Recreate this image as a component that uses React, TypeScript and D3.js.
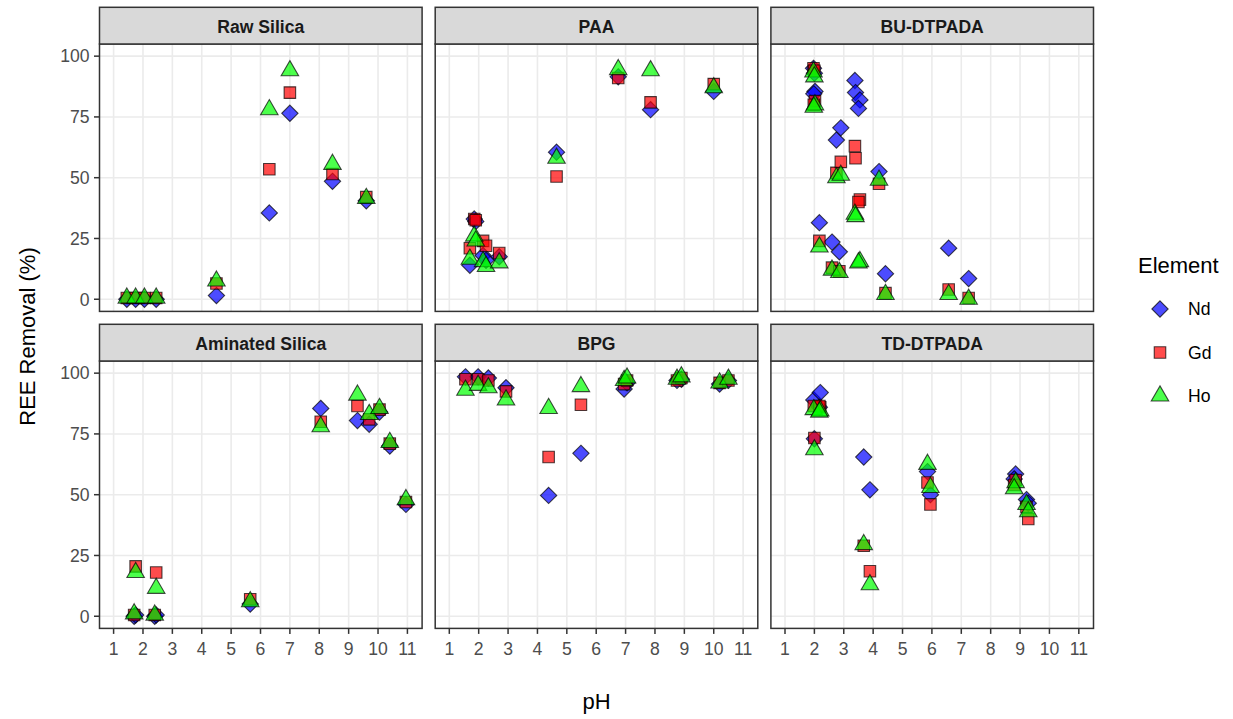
import React from "react";
import * as d3 from "d3";

// ---- Data: REE removal (%) vs pH for each sorbent ----
const panelNames = ["Raw Silica", "PAA", "BU-DTPADA", "Aminated Silica", "BPG", "TD-DTPADA"];
const elements = ["Nd", "Gd", "Ho"];
const xTicks = [1, 2, 3, 4, 5, 6, 7, 8, 9, 10, 11];
const yTicks = [0, 25, 50, 75, 100];

const rawSilicaPH = [1.45, 1.75, 2.05, 2.45, 4.5, 6.3, 7.0, 8.45, 9.6];
const rawSilicaNd = [0, 0, 0, 0, 1.5, 35.5, 76.5, 48.5, 40.5];
const rawSilicaGd = [0.5, 0.5, 0.5, 0.5, 6.5, 53.5, 85, 51.5, 42];
const rawSilicaHo = [0.5, 0.5, 0.5, 0.5, 7.5, 78, 94, 55.5, 41.5];

const paaPH = [1.7, 1.85, 1.9, 2.15, 2.25, 2.7, 4.65, 6.75, 7.85, 10.0];
const paaNd = [14, 33, 32, 18, 16, 17.5, 60.5, 91.5, 78, 85.5];
const paaGd = [21, 33, 32.5, 24, 22, 19, 50.5, 91, 81, 88.5];
const paaHo = [16.5, 26, 24, 15.5, 13.5, 15, 58, 94.5, 94, 87];

const buPH = [1.97, 2.0, 2.02, 1.98, 2.17, 2.6, 2.85, 2.75, 2.9, 3.38, 3.4, 3.55, 3.5, 4.2, 4.42, 6.57, 7.25];
const buNd = [95, 93, 85.5, 84.5, 31.5, 23.5, 19.5, 65.5, 70.5, 90, 85, 82, 78.5, 52.5, 10.5, 21, 8.5];
const buGd = [95, 94, 81.5, 80, 24, 13, 11.5, 52, 56.5, 63, 58, 41, 40, 47.5, 2.5, 4, 0.5];
const buHo = [93.5, 91.5, 80, 79, 21.5, 12, 11, 50, 51, 35, 34, 15.5, 15, 49, 2, 2, 0];

const aminatedPH = [1.7, 1.75, 2.4, 2.45, 5.65, 8.05, 9.3, 9.7, 10.05, 10.4, 10.95];
const aminatedNd = [0, 0.5, 0, 0.5, 5, 85.5, 80.5, 79, 84, 70, 46];
const aminatedGd = [0.5, 20.5, 0.5, 18, 7, 80, 86.5, 81, 85, 71, 47];
const aminatedHo = [1, 18, 0.5, 11.5, 6, 78, 91, 83, 85.5, 71.5, 48];

const bpgPH = [1.55, 1.98, 2.33, 2.93, 4.38, 5.48, 6.95, 7.05, 8.75, 8.9, 10.2, 10.5];
const bpgNd = [98.5, 98.5, 98, 94, 49.7, 67, 93.5, 96, 97, 97.5, 95.5, 97];
const bpgGd = [97.5, 97.5, 97, 92.5, 65.5, 87, 95.5, 97, 97, 98, 96, 97];
const bpgHo = [93, 95, 94, 89, 85.5, 94.5, 97, 98, 97.5, 98.5, 96, 97.5];

const tdPH = [1.98, 2.2, 2.17, 2.0, 3.68, 3.89, 5.85, 5.95, 8.85, 8.8, 9.22, 9.28];
const tdNd = [89, 92, 86, 73, 65.5, 52, 59.5, 50, 58.5, 56.5, 48, 46.5];
const tdGd = [86.5, 86, 86.5, 73.3, 29, 18.5, 55, 46, 56, 54, 45, 40];
const tdHo = [85, 84.5, 84, 68.5, 29.5, 13, 62.5, 53, 55, 52.5, 46, 43];

const panelSeries = [
  { pH: rawSilicaPH, Nd: rawSilicaNd, Gd: rawSilicaGd, Ho: rawSilicaHo },
  { pH: paaPH, Nd: paaNd, Gd: paaGd, Ho: paaHo },
  { pH: buPH, Nd: buNd, Gd: buGd, Ho: buHo },
  { pH: aminatedPH, Nd: aminatedNd, Gd: aminatedGd, Ho: aminatedHo },
  { pH: bpgPH, Nd: bpgNd, Gd: bpgGd, Ho: bpgHo },
  { pH: tdPH, Nd: tdNd, Gd: tdGd, Ho: tdHo },
];

// ---- Layout ----
const W = 1233;
const H = 719;
const colLeft = [99.5, 435.2, 770.9];
const panelW = 322.6;
const stripTop = [7.3, 324.3];
const stripH = 36.7;
const panelTop = [44, 361];
const panelH = 267.4;

const FONT = "'Liberation Sans', Arial, Helvetica, sans-serif";
const BORDER = "#333333";
const GRID = "#EBEBEB";
const TICK_TEXT = "#4D4D4D";

const fillColor: Record<string, string> = { Nd: "#0000FF", Gd: "#FF0000", Ho: "#00FF00" };

// Marker outlines sized like R's filled shapes 23 / 22 / 24
const S = 6.5;
function markerPath(el: string): string {
  if (el === "Nd") {
    const r = 1.2533 * S;
    return `M0,${-r}L${r},0L0,${r}L${-r},0Z`;
  }
  if (el === "Gd") {
    const h = 0.8862 * S;
    return `M${-h},${-h}L${h},${-h}L${h},${h}L${-h},${h}Z`;
  }
  const r = 1.5551 * S;
  const yc = 0.7776 * S;
  const xc = 1.3468 * S;
  return `M0,${-r}L${xc},${yc}L${-xc},${yc}Z`;
}

function Marker({ el, x, y }: { el: string; x: number; y: number }) {
  return (
    <path
      d={markerPath(el)}
      transform={`translate(${x},${y})`}
      fill={fillColor[el]}
      fillOpacity={0.7}
      stroke="#000"
      strokeOpacity={0.7}
      strokeWidth={1.1}
    />
  );
}

function Panel({ idx }: { idx: number }) {
  const row = Math.floor(idx / 3);
  const col = idx % 3;
  const left = colLeft[col];
  const top = panelTop[row];
  const x = d3.scaleLinear().domain([0.52, 11.5]).range([left, left + panelW]);
  const y = d3.scaleLinear().domain([-5, 105]).range([top + panelH, top]);
  const data = panelSeries[idx];
  const clipId = `clip-${idx}`;

  return (
    <g>
      <defs>
        <clipPath id={clipId}>
          <rect x={left} y={top} width={panelW} height={panelH} />
        </clipPath>
      </defs>
      {/* panel background + grid */}
      <rect x={left} y={top} width={panelW} height={panelH} fill="#fff" />
      {xTicks.map((t) => (
        <line key={`vx${t}`} x1={x(t)} x2={x(t)} y1={top} y2={top + panelH} stroke={GRID} strokeWidth={1.6} />
      ))}
      {yTicks.map((t) => (
        <line key={`hy${t}`} x1={left} x2={left + panelW} y1={y(t)} y2={y(t)} stroke={GRID} strokeWidth={1.6} />
      ))}
      {/* points: Nd first, then Gd, then Ho on top */}
      <g clipPath={`url(#${clipId})`}>
        {elements.map((el) =>
          data.pH.map((p, i) => (
            <Marker key={`${el}-${i}`} el={el} x={x(p)} y={y((data as any)[el][i])} />
          ))
        )}
      </g>
      <rect x={left} y={top} width={panelW} height={panelH} fill="none" stroke={BORDER} strokeWidth={1.5} />
      {/* strip */}
      <rect x={left} y={stripTop[row]} width={panelW} height={stripH} fill="#D9D9D9" stroke={BORDER} strokeWidth={1.5} />
      <text
        x={left + panelW / 2}
        y={stripTop[row] + stripH / 2 + 7.4}
        textAnchor="middle"
        fontFamily={FONT}
        fontWeight="bold"
        fontSize={17.6}
        fill="#1A1A1A"
      >
        {panelNames[idx]}
      </text>
      {/* left axis */}
      {col === 0 &&
        yTicks.map((t) => (
          <g key={`yt${t}`}>
            <line x1={left - 5.5} x2={left} y1={y(t)} y2={y(t)} stroke={BORDER} strokeWidth={1.5} />
            <text
              x={left - 10}
              y={y(t) + 6.3}
              textAnchor="end"
              fontFamily={FONT}
              fontSize={17.6}
              fill={TICK_TEXT}
            >
              {t}
            </text>
          </g>
        ))}
      {/* bottom axis */}
      {row === 1 &&
        xTicks.map((t) => (
          <g key={`xt${t}`}>
            <line x1={x(t)} x2={x(t)} y1={top + panelH} y2={top + panelH + 5.5} stroke={BORDER} strokeWidth={1.5} />
            <text
              x={x(t)}
              y={655}
              textAnchor="middle"
              fontFamily={FONT}
              fontSize={17.6}
              fill={TICK_TEXT}
            >
              {t}
            </text>
          </g>
        ))}
    </g>
  );
}

const legendY = [309, 352.5, 396];

export default function App() {
  return (
    <svg
      width={W}
      height={H}
      viewBox={`0 0 ${W} ${H}`}
      style={{ position: "absolute", left: 0, top: 0, background: "#fff" }}
    >
      <rect x={0} y={0} width={W} height={H} fill="#fff" />
      {panelNames.map((_, i) => (
        <Panel key={i} idx={i} />
      ))}
      {/* axis titles */}
      <text x={596.5} y={709} textAnchor="middle" fontFamily={FONT} fontSize={22} fill="#000">
        pH
      </text>
      <text
        transform="translate(35,336.5) rotate(-90)"
        textAnchor="middle"
        fontFamily={FONT}
        fontSize={22}
        fill="#000"
      >
        REE Removal (%)
      </text>
      {/* legend */}
      <text x={1138} y={273.3} fontFamily={FONT} fontSize={22} fill="#000">
        Element
      </text>
      {elements.map((el, i) => (
        <g key={el}>
          <Marker el={el} x={1160} y={legendY[i]} />
          <text x={1188} y={legendY[i] + 6.3} fontFamily={FONT} fontSize={17.6} fill="#000">
            {el}
          </text>
        </g>
      ))}
    </svg>
  );
}
